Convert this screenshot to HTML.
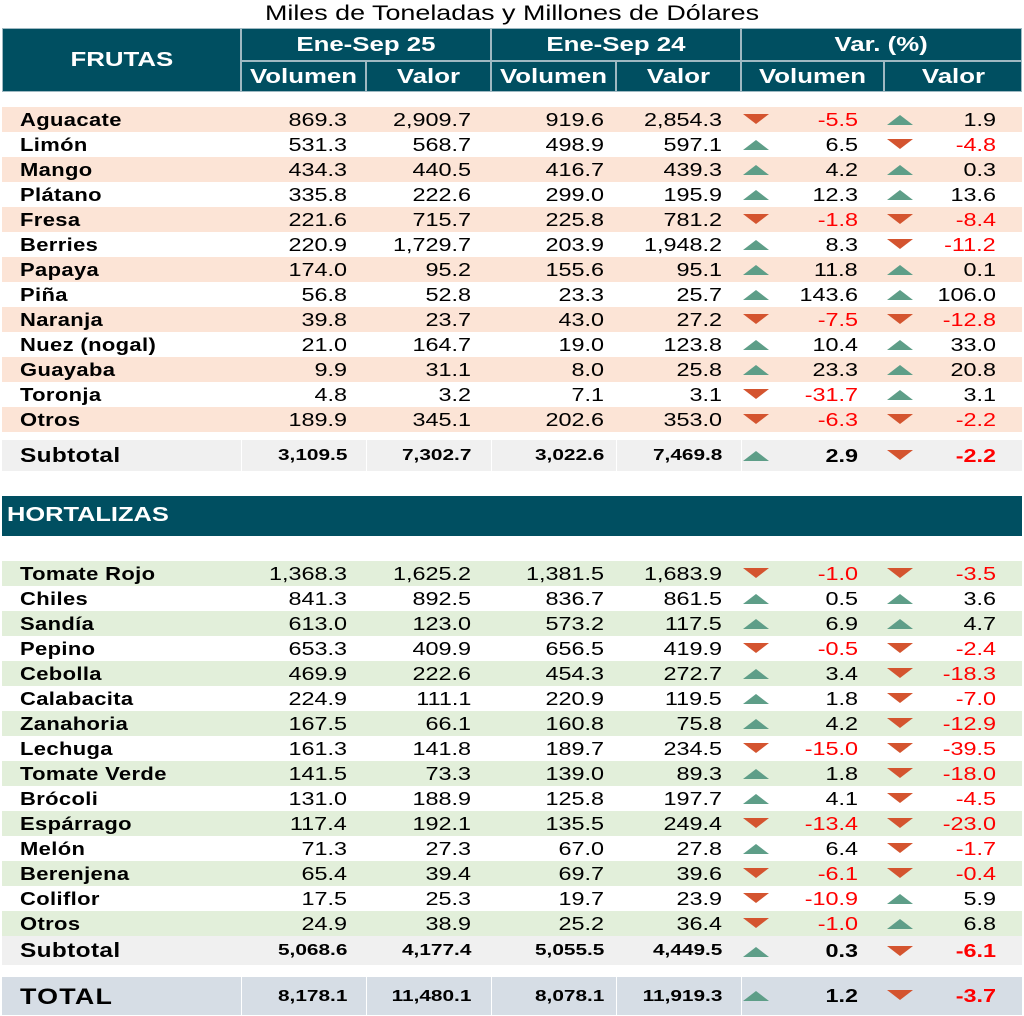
<!DOCTYPE html>
<html><head><meta charset="utf-8"><style>
*{margin:0;padding:0;box-sizing:border-box}
body{width:1024px;height:1015px;background:#fff;position:relative;overflow:hidden;font-family:"Liberation Sans",Arial,sans-serif;color:#000}
.t{position:absolute;left:0;width:1024px;top:1px;text-align:center;font-size:21px;line-height:26px}
.t b{display:inline-block;font-weight:normal;transform:scaleX(1.28)}
.h{position:absolute;background:#004F61;color:#fff;font-weight:bold;font-size:20px;text-align:center;border:1px solid #9fb9c2}
.h b{display:inline-block;transform:scaleX(1.29)}
.r{position:absolute;left:2px;width:1020px;height:25px;font-size:18px;line-height:27px}
.r span{position:absolute;top:0;white-space:nowrap;transform:scaleX(1.3);transform-origin:right center}
.r span.l{transform:scaleX(1.22);transform-origin:left center}
.p{background:#FCE4D6}.g{background:#E2EFDA}
.l{left:18px;font-weight:bold;letter-spacing:0.3px}
.a{right:675px}.b{right:551px}.c{right:418px}.d{right:300px}.e{right:164px}.f{right:26px}
.n{color:#f00}
.r i{position:absolute;width:0;height:0;border-left:13px solid transparent;border-right:13px solid transparent}
.U{border-bottom:10px solid #5E9E88;top:8px}
.D{border-top:10px solid #D4542F;top:7px}
.x1{left:741px}.x2{left:885px}
.s{background:#F0F0F0;height:31px;line-height:32px}
.s span{font-weight:bold;font-size:16px}
.s .l{font-size:20px}
.s .e,.s .f{font-size:18px}
.s i{margin-top:3px}
.tot{background:#D6DDE5;height:38px;line-height:39px}
.tot span{font-weight:bold;font-size:16px}
.tot .l{font-size:22px;letter-spacing:1px}
.tot .e,.tot .f{font-size:18px}
.tot i{margin-top:6px}
.v{position:absolute;width:1px;background:#fff}
</style></head><body>
<div class="t"><b>Miles de Toneladas y Millones de Dólares</b></div>
<div class="h" style="left:2px;top:28px;width:239px;height:64px;line-height:63px"><b>FRUTAS</b></div>
<div class="h" style="left:241px;top:28px;width:250px;height:33px;line-height:33px"><b>Ene-Sep 25</b></div>
<div class="h" style="left:491px;top:28px;width:250px;height:33px;line-height:33px"><b>Ene-Sep 24</b></div>
<div class="h" style="left:741px;top:28px;width:281px;height:33px;line-height:33px"><b>Var. (%)</b></div>
<div class="h" style="left:241px;top:61px;width:125px;height:31px;line-height:30px"><b>Volumen</b></div>
<div class="h" style="left:366px;top:61px;width:125px;height:31px;line-height:30px"><b>Valor</b></div>
<div class="h" style="left:491px;top:61px;width:125px;height:31px;line-height:30px"><b>Volumen</b></div>
<div class="h" style="left:616px;top:61px;width:125px;height:31px;line-height:30px"><b>Valor</b></div>
<div class="h" style="left:741px;top:61px;width:143px;height:31px;line-height:30px"><b>Volumen</b></div>
<div class="h" style="left:884px;top:61px;width:138px;height:31px;line-height:30px"><b>Valor</b></div>

<div class="r p" style="top:107px"><span class="l">Aguacate</span><span class="a">869.3</span><span class="b">2,909.7</span><span class="c">919.6</span><span class="d">2,854.3</span><i class="D x1"></i><span class="e n">-5.5</span><i class="U x2"></i><span class="f">1.9</span></div>
<div class="r" style="top:132px"><span class="l">Limón</span><span class="a">531.3</span><span class="b">568.7</span><span class="c">498.9</span><span class="d">597.1</span><i class="U x1"></i><span class="e">6.5</span><i class="D x2"></i><span class="f n">-4.8</span></div>
<div class="r p" style="top:157px"><span class="l">Mango</span><span class="a">434.3</span><span class="b">440.5</span><span class="c">416.7</span><span class="d">439.3</span><i class="U x1"></i><span class="e">4.2</span><i class="U x2"></i><span class="f">0.3</span></div>
<div class="r" style="top:182px"><span class="l">Plátano</span><span class="a">335.8</span><span class="b">222.6</span><span class="c">299.0</span><span class="d">195.9</span><i class="U x1"></i><span class="e">12.3</span><i class="U x2"></i><span class="f">13.6</span></div>
<div class="r p" style="top:207px"><span class="l">Fresa</span><span class="a">221.6</span><span class="b">715.7</span><span class="c">225.8</span><span class="d">781.2</span><i class="D x1"></i><span class="e n">-1.8</span><i class="D x2"></i><span class="f n">-8.4</span></div>
<div class="r" style="top:232px"><span class="l">Berries</span><span class="a">220.9</span><span class="b">1,729.7</span><span class="c">203.9</span><span class="d">1,948.2</span><i class="U x1"></i><span class="e">8.3</span><i class="D x2"></i><span class="f n">-11.2</span></div>
<div class="r p" style="top:257px"><span class="l">Papaya</span><span class="a">174.0</span><span class="b">95.2</span><span class="c">155.6</span><span class="d">95.1</span><i class="U x1"></i><span class="e">11.8</span><i class="U x2"></i><span class="f">0.1</span></div>
<div class="r" style="top:282px"><span class="l">Piña</span><span class="a">56.8</span><span class="b">52.8</span><span class="c">23.3</span><span class="d">25.7</span><i class="U x1"></i><span class="e">143.6</span><i class="U x2"></i><span class="f">106.0</span></div>
<div class="r p" style="top:307px"><span class="l">Naranja</span><span class="a">39.8</span><span class="b">23.7</span><span class="c">43.0</span><span class="d">27.2</span><i class="D x1"></i><span class="e n">-7.5</span><i class="D x2"></i><span class="f n">-12.8</span></div>
<div class="r" style="top:332px"><span class="l">Nuez (nogal)</span><span class="a">21.0</span><span class="b">164.7</span><span class="c">19.0</span><span class="d">123.8</span><i class="U x1"></i><span class="e">10.4</span><i class="U x2"></i><span class="f">33.0</span></div>
<div class="r p" style="top:357px"><span class="l">Guayaba</span><span class="a">9.9</span><span class="b">31.1</span><span class="c">8.0</span><span class="d">25.8</span><i class="U x1"></i><span class="e">23.3</span><i class="U x2"></i><span class="f">20.8</span></div>
<div class="r" style="top:382px"><span class="l">Toronja</span><span class="a">4.8</span><span class="b">3.2</span><span class="c">7.1</span><span class="d">3.1</span><i class="D x1"></i><span class="e n">-31.7</span><i class="U x2"></i><span class="f">3.1</span></div>
<div class="r p" style="top:407px"><span class="l">Otros</span><span class="a">189.9</span><span class="b">345.1</span><span class="c">202.6</span><span class="d">353.0</span><i class="D x1"></i><span class="e n">-6.3</span><i class="D x2"></i><span class="f n">-2.2</span></div>
<div class="r s" style="top:440px"><span class="l">Subtotal</span><span class="a">3,109.5</span><span class="b">7,302.7</span><span class="c">3,022.6</span><span class="d">7,469.8</span><i class="U x1"></i><span class="e">2.9</span><i class="D x2"></i><span class="f n">-2.2</span></div>
<div class="v" style="left:241px;top:440px;height:31px"></div><div class="v" style="left:366px;top:440px;height:31px"></div><div class="v" style="left:491px;top:440px;height:31px"></div><div class="v" style="left:616px;top:440px;height:31px"></div><div class="v" style="left:741px;top:440px;height:31px"></div>

<div class="h" style="left:2px;top:496px;width:1020px;height:40px;line-height:39px;text-align:left;padding-left:5px;border:none"><b style="transform-origin:left center;transform:scaleX(1.27)">HORTALIZAS</b></div>

<div class="r g" style="top:561px"><span class="l">Tomate Rojo</span><span class="a">1,368.3</span><span class="b">1,625.2</span><span class="c">1,381.5</span><span class="d">1,683.9</span><i class="D x1"></i><span class="e n">-1.0</span><i class="D x2"></i><span class="f n">-3.5</span></div>
<div class="r" style="top:586px"><span class="l">Chiles</span><span class="a">841.3</span><span class="b">892.5</span><span class="c">836.7</span><span class="d">861.5</span><i class="U x1"></i><span class="e">0.5</span><i class="U x2"></i><span class="f">3.6</span></div>
<div class="r g" style="top:611px"><span class="l">Sandía</span><span class="a">613.0</span><span class="b">123.0</span><span class="c">573.2</span><span class="d">117.5</span><i class="U x1"></i><span class="e">6.9</span><i class="U x2"></i><span class="f">4.7</span></div>
<div class="r" style="top:636px"><span class="l">Pepino</span><span class="a">653.3</span><span class="b">409.9</span><span class="c">656.5</span><span class="d">419.9</span><i class="D x1"></i><span class="e n">-0.5</span><i class="D x2"></i><span class="f n">-2.4</span></div>
<div class="r g" style="top:661px"><span class="l">Cebolla</span><span class="a">469.9</span><span class="b">222.6</span><span class="c">454.3</span><span class="d">272.7</span><i class="U x1"></i><span class="e">3.4</span><i class="D x2"></i><span class="f n">-18.3</span></div>
<div class="r" style="top:686px"><span class="l">Calabacita</span><span class="a">224.9</span><span class="b">111.1</span><span class="c">220.9</span><span class="d">119.5</span><i class="U x1"></i><span class="e">1.8</span><i class="D x2"></i><span class="f n">-7.0</span></div>
<div class="r g" style="top:711px"><span class="l">Zanahoria</span><span class="a">167.5</span><span class="b">66.1</span><span class="c">160.8</span><span class="d">75.8</span><i class="U x1"></i><span class="e">4.2</span><i class="D x2"></i><span class="f n">-12.9</span></div>
<div class="r" style="top:736px"><span class="l">Lechuga</span><span class="a">161.3</span><span class="b">141.8</span><span class="c">189.7</span><span class="d">234.5</span><i class="D x1"></i><span class="e n">-15.0</span><i class="D x2"></i><span class="f n">-39.5</span></div>
<div class="r g" style="top:761px"><span class="l">Tomate Verde</span><span class="a">141.5</span><span class="b">73.3</span><span class="c">139.0</span><span class="d">89.3</span><i class="U x1"></i><span class="e">1.8</span><i class="D x2"></i><span class="f n">-18.0</span></div>
<div class="r" style="top:786px"><span class="l">Brócoli</span><span class="a">131.0</span><span class="b">188.9</span><span class="c">125.8</span><span class="d">197.7</span><i class="U x1"></i><span class="e">4.1</span><i class="D x2"></i><span class="f n">-4.5</span></div>
<div class="r g" style="top:811px"><span class="l">Espárrago</span><span class="a">117.4</span><span class="b">192.1</span><span class="c">135.5</span><span class="d">249.4</span><i class="D x1"></i><span class="e n">-13.4</span><i class="D x2"></i><span class="f n">-23.0</span></div>
<div class="r" style="top:836px"><span class="l">Melón</span><span class="a">71.3</span><span class="b">27.3</span><span class="c">67.0</span><span class="d">27.8</span><i class="U x1"></i><span class="e">6.4</span><i class="D x2"></i><span class="f n">-1.7</span></div>
<div class="r g" style="top:861px"><span class="l">Berenjena</span><span class="a">65.4</span><span class="b">39.4</span><span class="c">69.7</span><span class="d">39.6</span><i class="D x1"></i><span class="e n">-6.1</span><i class="D x2"></i><span class="f n">-0.4</span></div>
<div class="r" style="top:886px"><span class="l">Coliflor</span><span class="a">17.5</span><span class="b">25.3</span><span class="c">19.7</span><span class="d">23.9</span><i class="D x1"></i><span class="e n">-10.9</span><i class="U x2"></i><span class="f">5.9</span></div>
<div class="r g" style="top:911px"><span class="l">Otros</span><span class="a">24.9</span><span class="b">38.9</span><span class="c">25.2</span><span class="d">36.4</span><i class="D x1"></i><span class="e n">-1.0</span><i class="U x2"></i><span class="f">6.8</span></div>
<div class="r s" style="top:936px;height:29px;line-height:30px"><span class="l">Subtotal</span><span class="a">5,068.6</span><span class="b">4,177.4</span><span class="c">5,055.5</span><span class="d">4,449.5</span><i class="U x1"></i><span class="e">0.3</span><i class="D x2"></i><span class="f n">-6.1</span></div>
<div class="r tot" style="top:977px"><span class="l">TOTAL</span><span class="a">8,178.1</span><span class="b">11,480.1</span><span class="c">8,078.1</span><span class="d">11,919.3</span><i class="U x1"></i><span class="e">1.2</span><i class="D x2"></i><span class="f n">-3.7</span></div>
<div class="v" style="left:241px;top:977px;height:38px"></div><div class="v" style="left:366px;top:977px;height:38px"></div><div class="v" style="left:491px;top:977px;height:38px"></div><div class="v" style="left:616px;top:977px;height:38px"></div><div class="v" style="left:741px;top:977px;height:38px"></div>
</body></html>
